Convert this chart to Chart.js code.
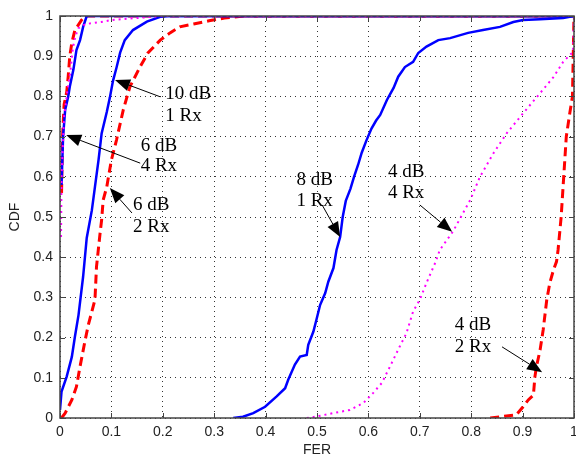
<!DOCTYPE html>
<html>
<head>
<meta charset="utf-8">
<script src="https://cdn.jsdelivr.net/npm/chart.js@4/dist/chart.umd.min.js"></script>
<style>
  body { margin: 0; background: #fff; }
  canvas { display: block; }
</style>
</head>
<body>
<canvas id="grafico" width="576" height="462"></canvas>
<script>
// tick labels for both axes
var tickLabels = ['0', '0.1', '0.2', '0.3', '0.4', '0.5', '0.6', '0.7', '0.8', '0.9', '1'];

// 1 Rx, 8 dB
var fer8dB1Rx = [0.337, 0.356, 0.376, 0.399, 0.421, 0.438, 0.444, 0.457, 0.467, 0.48, 0.483, 0.493, 0.499, 0.506, 0.516, 0.522, 0.532, 0.538, 0.545, 0.55, 0.556, 0.565, 0.572, 0.58, 0.587, 0.596, 0.606, 0.615, 0.623, 0.636, 0.649, 0.658, 0.671, 0.687, 0.697, 0.713, 0.736, 0.759, 0.794, 0.823, 0.856, 0.882, 0.901, 0.934, 0.979, 1.0];
var cdf8dB1Rx = [0, 0.003, 0.012, 0.028, 0.053, 0.074, 0.095, 0.133, 0.153, 0.157, 0.182, 0.215, 0.245, 0.281, 0.311, 0.339, 0.373, 0.418, 0.45, 0.5, 0.54, 0.57, 0.6, 0.63, 0.66, 0.69, 0.72, 0.74, 0.754, 0.791, 0.821, 0.849, 0.873, 0.886, 0.908, 0.924, 0.94, 0.945, 0.958, 0.965, 0.973, 0.985, 0.99, 0.992, 0.995, 1.0];

// 1 Rx, 10 dB
var fer10dB1Rx = [0, 0.003, 0.013, 0.023, 0.029, 0.036, 0.045, 0.052, 0.062, 0.068, 0.075, 0.081, 0.091, 0.097, 0.103, 0.11, 0.117, 0.126, 0.142, 0.169, 0.195, 0.21, 1.0];
var cdf10dB1Rx = [0.02, 0.066, 0.103, 0.152, 0.202, 0.256, 0.352, 0.448, 0.517, 0.575, 0.642, 0.708, 0.761, 0.797, 0.838, 0.872, 0.909, 0.94, 0.965, 0.986, 0.998, 1.0, 1.0];

// 1 Rx, highest SNR (leftmost blue)
var ferHighBlue = [0.003, 0.006, 0.01, 0.016, 0.019, 0.026, 0.032, 0.039, 0.045, 0.052, 1.0];
var cdfHighBlue = [0.58, 0.7, 0.766, 0.8, 0.824, 0.866, 0.915, 0.94, 0.973, 1.0, 1.0];

// 2 Rx, 4 dB
var fer4dB2Rx = [0.837, 0.856, 0.888, 0.901, 0.911, 0.921, 0.924, 0.927, 0.934, 0.94, 0.947, 0.953, 0.96, 0.966, 0.969, 0.975, 0.98, 0.985, 0.992, 0.997, 1.0];
var cdf4dB2Rx = [0, 0.003, 0.008, 0.028, 0.045, 0.057, 0.103, 0.128, 0.169, 0.219, 0.294, 0.336, 0.368, 0.389, 0.418, 0.5, 0.6, 0.7, 0.76, 0.8, 1.0];

// 2 Rx, 6 dB
var fer6dB2Rx = [0.003, 0.01, 0.023, 0.032, 0.039, 0.049, 0.055, 0.068, 0.071, 0.078, 0.081, 0.084, 0.091, 0.1, 0.11, 0.123, 0.136, 0.156, 0.171, 0.195, 0.214, 0.233, 0.26, 0.29, 0.32, 0.36, 1.0];
var cdf6dB2Rx = [0, 0.012, 0.045, 0.078, 0.128, 0.194, 0.231, 0.294, 0.376, 0.46, 0.493, 0.542, 0.575, 0.642, 0.692, 0.766, 0.824, 0.874, 0.908, 0.94, 0.958, 0.973, 0.98, 0.988, 0.995, 1.0, 1.0];

// 2 Rx, highest SNR (leftmost red)
var ferHighRed = [0.003, 0.005, 0.008, 0.013, 0.016, 0.019, 0.023, 0.029, 0.042, 0.05, 1.0];
var cdfHighRed = [0.56, 0.7, 0.78, 0.81, 0.85, 0.9, 0.933, 0.965, 0.99, 1.0, 1.0];

// 4 Rx, 4 dB
var fer4dB4Rx = [0.48, 0.496, 0.531, 0.564, 0.59, 0.609, 0.626, 0.642, 0.661, 0.674, 0.687, 0.7, 0.713, 0.73, 0.739, 0.765, 0.78, 0.798, 0.817, 0.843, 0.869, 0.901, 0.934, 0.96, 0.979, 0.992, 0.998, 1.0];
var cdf4dB4Rx = [0, 0.003, 0.012, 0.02, 0.037, 0.062, 0.087, 0.128, 0.178, 0.211, 0.265, 0.294, 0.336, 0.386, 0.418, 0.465, 0.5, 0.542, 0.6, 0.658, 0.708, 0.758, 0.808, 0.848, 0.886, 0.903, 0.91, 1.0];

// 4 Rx, 6 dB
var fer6dB4Rx = [0.002, 0.003, 0.008, 0.015, 0.02, 0.025, 0.03, 0.036, 0.05, 0.08, 0.1, 0.15, 0.2, 1.0];
var cdf6dB4Rx = [0.45, 0.6, 0.75, 0.82, 0.86, 0.92, 0.95, 0.97, 0.98, 0.985, 0.99, 0.995, 1.0, 1.0];

// annotations: label lines, text left/line centres, arrow tail and tip (data units)
var noteLines = [['10 dB', '1 Rx'], ['6 dB', '4 Rx'], ['6 dB', '2 Rx'], ['8 dB', '1 Rx'], ['4 dB', '4 Rx'], ['4 dB', '2 Rx']];
var noteTextX = [0.205, 0.157, 0.142, 0.46, 0.638, 0.768];
var noteTextY = [[0.806, 0.751], [0.677, 0.627], [0.53, 0.475], [0.592, 0.54], [0.612, 0.56], [0.231, 0.177]];
var noteTail = [[0.195, 0.799], [0.156, 0.634], [0.14, 0.51], [0.51, 0.53], [0.7, 0.53], [0.86, 0.177]];
var noteTip = [[0.107, 0.841], [0.012, 0.704], [0.097, 0.572], [0.545, 0.45], [0.763, 0.463], [0.938, 0.114]];

function toPoints(xs, ys) {
  var pts = [];
  for (var i = 0; i < xs.length; i++) {
    pts.push({ x: xs[i], y: ys[i] });
  }
  return pts;
}

function serie(xs, ys, colore, stile) {
  var ds = {
    data: toPoints(xs, ys),
    borderColor: colore,
    backgroundColor: colore,
    pointRadius: 0,
    fill: false,
    tension: 0
  };
  if (stile === 'solid') {
    ds.borderWidth = 2.5;
  } else if (stile === 'dash') {
    ds.borderWidth = 3;
    ds.borderDash = [9, 5];
  } else {
    ds.borderWidth = 2;
    ds.borderDash = [2, 4];
  }
  return ds;
}

function freccia(ctx, x0, y0, x1, y1) {
  var ang = Math.atan2(y1 - y0, x1 - x0);
  var len = 15, half = 6;
  ctx.beginPath();
  ctx.moveTo(x0, y0);
  ctx.lineTo(x1 - len * Math.cos(ang), y1 - len * Math.sin(ang));
  ctx.stroke();
  ctx.beginPath();
  ctx.moveTo(x1, y1);
  ctx.lineTo(x1 - len * Math.cos(ang) + half * Math.sin(ang), y1 - len * Math.sin(ang) - half * Math.cos(ang));
  ctx.lineTo(x1 - len * Math.cos(ang) - half * Math.sin(ang), y1 - len * Math.sin(ang) + half * Math.cos(ang));
  ctx.closePath();
  ctx.fill();
}

var boxPlugin = {
  id: 'boxPlugin',
  afterDatasetsDraw: function (chart) {
    var ctx = chart.ctx;
    var a = chart.chartArea;
    var sx = chart.scales.x, sy = chart.scales.y;
    ctx.save();

    // inward tick marks
    ctx.strokeStyle = '#444';
    ctx.lineWidth = 1;
    for (var i = 0; i < tickLabels.length; i++) {
      var v = i / 10;
      var px = Math.round(sx.getPixelForValue(v)) + 0.5;
      var py = Math.round(sy.getPixelForValue(v)) + 0.5;
      ctx.beginPath();
      ctx.moveTo(px, a.bottom); ctx.lineTo(px, a.bottom - 5);
      ctx.moveTo(px, a.top); ctx.lineTo(px, a.top + 5);
      ctx.moveTo(a.left, py); ctx.lineTo(a.left + 5, py);
      ctx.moveTo(a.right, py); ctx.lineTo(a.right - 5, py);
      ctx.stroke();
    }

    // axes box
    ctx.strokeStyle = '#444';
    ctx.lineWidth = 1.5;
    ctx.strokeRect(a.left, a.top, a.right - a.left, a.bottom - a.top);

    // annotations
    ctx.fillStyle = '#000';
    ctx.strokeStyle = '#000';
    ctx.lineWidth = 1;
    ctx.font = '19px "Liberation Serif", "Times New Roman", serif';
    ctx.textAlign = 'left';
    ctx.textBaseline = 'middle';
    for (var n = 0; n < noteLines.length; n++) {
      var tx = sx.getPixelForValue(noteTextX[n]);
      for (var k = 0; k < noteLines[n].length; k++) {
        ctx.fillText(noteLines[n][k], tx, sy.getPixelForValue(noteTextY[n][k]));
      }
      freccia(ctx,
        sx.getPixelForValue(noteTail[n][0]), sy.getPixelForValue(noteTail[n][1]),
        sx.getPixelForValue(noteTip[n][0]), sy.getPixelForValue(noteTip[n][1]));
    }
    ctx.restore();
  }
};

var fontAssi = { family: '"Liberation Sans", Arial, sans-serif', size: 14 };

var ctx = document.getElementById('grafico').getContext('2d');
var grafico = new Chart(ctx, {
  type: 'line',
  data: {
    datasets: [
      serie(fer6dB4Rx, cdf6dB4Rx, '#ff00ff', 'dot'),
      serie(fer4dB4Rx, cdf4dB4Rx, '#ff00ff', 'dot'),
      serie(ferHighBlue, cdfHighBlue, '#0000ff', 'solid'),
      serie(fer10dB1Rx, cdf10dB1Rx, '#0000ff', 'solid'),
      serie(fer8dB1Rx, cdf8dB1Rx, '#0000ff', 'solid'),
      serie(ferHighRed, cdfHighRed, '#ff0000', 'dash'),
      serie(fer6dB2Rx, cdf6dB2Rx, '#ff0000', 'dash'),
      serie(fer4dB2Rx, cdf4dB2Rx, '#ff0000', 'dash')
    ]
  },
  options: {
    responsive: false,
    animation: false,
    layout: { padding: { top: 16, right: 2, left: 0, bottom: 0 } },
    plugins: {
      legend: { display: false },
      tooltip: { enabled: false }
    },
    scales: {
      x: {
        type: 'linear',
        min: 0,
        max: 1,
        ticks: {
          stepSize: 0.1,
          padding: 6,
          color: '#222',
          font: fontAssi,
          maxRotation: 0,
          callback: function (value, index) { return tickLabels[index]; }
        },
        grid: { color: '#333', lineWidth: 1, drawTicks: false },
        border: { display: false, dash: [1, 4] },
        title: { display: true, text: 'FER', color: '#222', font: fontAssi, padding: { top: 4, bottom: 3 } },
        afterFit: function (scale) {
          scale.height = 44;
          scale.paddingLeft = 0;
          scale.paddingRight = 0;
        }
      },
      y: {
        type: 'linear',
        min: 0,
        max: 1,
        ticks: {
          stepSize: 0.1,
          padding: 7,
          color: '#222',
          font: fontAssi,
          callback: function (value, index) { return tickLabels[index]; }
        },
        grid: { color: '#333', lineWidth: 1, drawTicks: false },
        border: { display: false, dash: [1, 4] },
        title: { display: true, text: 'CDF', color: '#222', font: fontAssi, padding: { top: 7, bottom: 4 } },
        afterFit: function (scale) {
          scale.width = 60;
          scale.paddingTop = 0;
          scale.paddingBottom = 0;
        }
      }
    }
  },
  plugins: [boxPlugin]
});
</script>
</body>
</html>
